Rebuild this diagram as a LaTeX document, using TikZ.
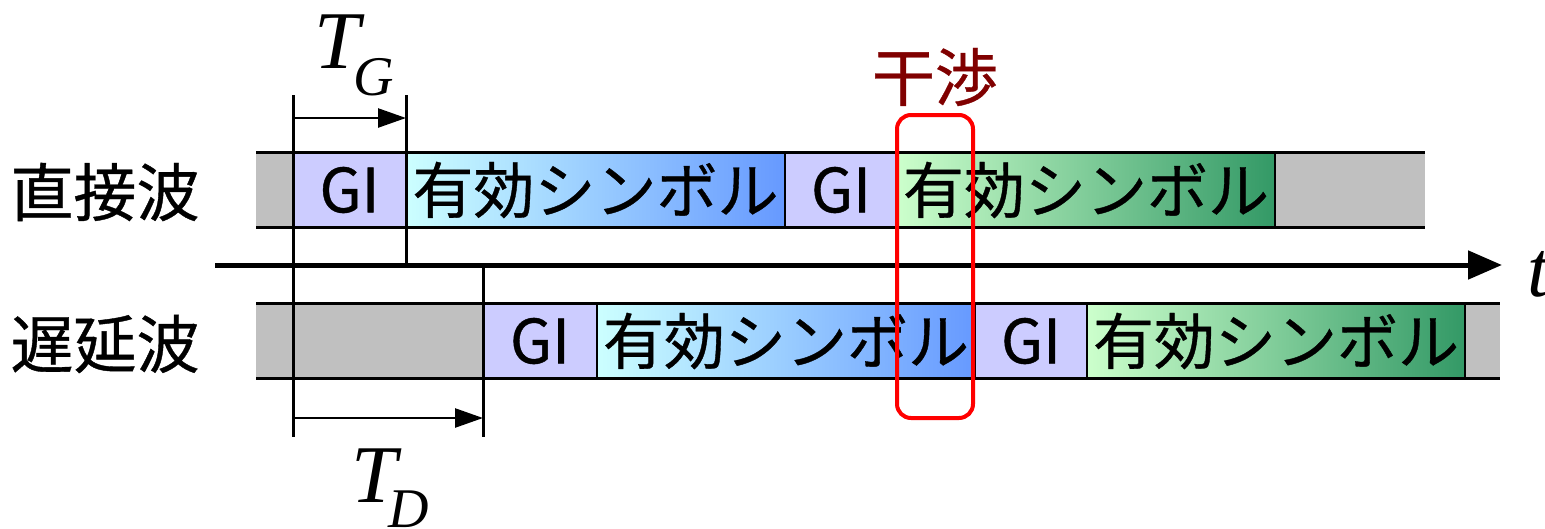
\documentclass[tikz,border=0pt]{standalone}
\usepackage{fontspec}
\newfontfamily\jp{Noto Sans CJK JP}[FakeBold=0.6]
\newfontfamily\tms{Liberation Serif}
\usetikzlibrary{arrows.meta}
\definecolor{gicol}{HTML}{CCCCFF}
\definecolor{graycol}{HTML}{C0C0C0}
\definecolor{bluel}{HTML}{CCFFFF}
\definecolor{bluer}{HTML}{6699FF}
\definecolor{greenl}{HTML}{CCFFCC}
\definecolor{greenr}{HTML}{339966}
\definecolor{darkred}{HTML}{800000}
\begin{document}
\begin{tikzpicture}[x=1pt,y=-1pt,
  cell/.style={inner sep=0pt, outer sep=0pt, minimum height=75pt, draw=none,
    font=\jp\fontsize{61}{61}\selectfont},
  graybox/.style={cell, fill=graycol},
  gibox/.style={cell, fill=gicol},
  bluebox/.style={cell, left color=bluel, right color=bluer},
  greenbox/.style={cell, left color=greenl, right color=greenr},
  rowline/.style={line width=3pt},
  sepline/.style={line width=2.5pt},
  tickline/.style={line width=3pt},
  dimarrow/.style={line width=2.5pt, -{Triangle[length=28pt,width=19pt]}},
  axis/.style={line width=5pt, -{Triangle[length=34pt,width=28pt]}},
  lab/.style={font=\jp\fontsize{63}{63}\selectfont, inner sep=0pt},
  bigT/.style={font=\tms\itshape\fontsize{82}{82}\selectfont, inner sep=0pt, anchor=base},
  subT/.style={font=\tms\itshape\fontsize{56}{56}\selectfont, inner sep=0pt, anchor=base},
  interf/.style={draw=red, line width=4pt, rounded corners=14pt}
]
\useasboundingbox (0,0) rectangle (1545,528);

% top row
\node[graybox, minimum width=37pt]  (a0) at (274.5,190) {};
\node[gibox,   minimum width=113pt] (a1) at (349.5,190) {GI};
\node[bluebox, minimum width=379pt] (a2) at (595.5,190) {有効シンボル};
\node[gibox,   minimum width=112pt] (a3) at (841,190) {GI};
\node[greenbox,minimum width=378pt] (a4) at (1086,190) {有効シンボル};
\node[graybox, minimum width=150pt] (a5) at (1350,190) {};

% bottom row
\node[graybox, minimum width=227pt] (b0) at (369.5,341) {};
\node[gibox,   minimum width=114pt] (b1) at (540,341) {GI};
\node[bluebox, minimum width=378pt] (b2) at (786,341) {有効シンボル};
\node[gibox,   minimum width=112pt] (b3) at (1031,341) {GI};
\node[greenbox,minimum width=378pt] (b4) at (1276,341) {有効シンボル};
\node[graybox, minimum width=35pt]  (b5) at (1482.5,341) {};

% row borders
\draw[rowline] (a0.north west) -- (a5.north east);
\draw[rowline] (a0.south west) -- (a5.south east);
\draw[rowline] (b0.north west) -- (b5.north east);
\draw[rowline] (b0.south west) -- (b5.south east);

% separators
\foreach \n in {a2,a3,a4,a5,b2,b3,b4,b5}
  \draw[sepline] (\n.north west) -- (\n.south west);

% row labels
\node[lab] (l1) at (105,192) {直接波};
\node[lab] (l2) at (105,344) {遅延波};

% time axis
\coordinate (ax0) at (215,265);
\coordinate (ax1) at (1502,265);
\draw[axis] (ax0) -- (ax1);
\node[font=\tms\itshape\fontsize{80}{80}\selectfont, inner sep=0pt, anchor=base west] (t) at (1527,296) {t};

% tick lines
\coordinate (p0) at (293,95);
\coordinate (p1) at (293,437);
\coordinate (q0) at (406,95);
\coordinate (q1) at (406,265);
\coordinate (r0) at (483,265);
\coordinate (r1) at (483,437);
\draw[tickline] (p0) -- (p1);
\draw[tickline] (q0) -- (q1);
\draw[tickline] (r0) -- (r1);

% dimension arrows
\coordinate (tg0) at (293,118);
\coordinate (tg1) at (406,118);
\coordinate (td0) at (293,418);
\coordinate (td1) at (483,418);
\draw[dimarrow] (tg0) -- (tg1);
\draw[dimarrow] (td0) -- (td1);
\node[bigT] (TG) at (337,68) {T};
\node[subT] (TGs) at (374,95) {G};
\node[bigT] (TD) at (374,502) {T};
\node[subT] (TDs) at (409,527) {D};

% interference box
\node[lab, text=darkred] (if) at (935,77) {干渉};
\coordinate (i0) at (897,115);
\coordinate (i1) at (973,418);
\draw[interf] (i0) rectangle (i1);
\end{tikzpicture}
\end{document}
